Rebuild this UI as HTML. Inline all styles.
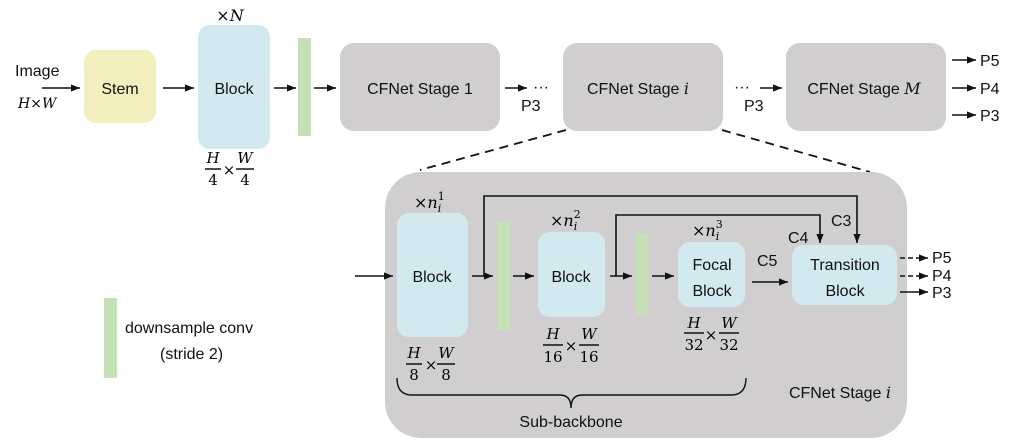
<!DOCTYPE html>
<html><head><meta charset="utf-8"><style>
html,body{margin:0;padding:0;background:#fff;}
svg{display:block;font-family:"Liberation Sans",sans-serif;}
.t{font-size:16px;fill:#111;}
.m{font-family:"DejaVu Serif","Liberation Serif",serif;font-style:italic;}
.s{font-family:"DejaVu Serif","Liberation Serif",serif;}
</style></head><body>
<svg width="1013" height="444" viewBox="0 0 1013 444" xmlns="http://www.w3.org/2000/svg">
<defs>
<marker id="a" viewBox="0 0 10 10" refX="10" refY="5" markerWidth="9" markerHeight="9" markerUnits="userSpaceOnUse" orient="auto"><path d="M0,1 L10,5 L0,9 z" fill="#111"/></marker>
</defs>
<g stroke="#111" stroke-width="1.6" fill="none">
<line x1="42" y1="88" x2="80" y2="88" marker-end="url(#a)"/>
<line x1="163" y1="88" x2="194" y2="88" marker-end="url(#a)"/>
<line x1="274" y1="88" x2="296" y2="88" marker-end="url(#a)"/>
<line x1="314" y1="88" x2="336" y2="88" marker-end="url(#a)"/>
<line x1="505" y1="88" x2="527" y2="88" marker-end="url(#a)"/>
<line x1="760" y1="88" x2="782" y2="88" marker-end="url(#a)"/>
<line x1="952" y1="60" x2="976" y2="60" marker-end="url(#a)"/>
<line x1="952" y1="88" x2="976" y2="88" marker-end="url(#a)"/>
<line x1="952" y1="115" x2="976" y2="115" marker-end="url(#a)"/>
</g>
<rect x="84" y="50" width="72" height="73" rx="12" fill="#f0efbd"/>
<rect x="198" y="25" width="72" height="124" rx="12" fill="#d2e9f0"/>
<rect x="298" y="38" width="13" height="98" fill="#c5e0b4"/>
<rect x="340" y="43" width="160" height="88" rx="14" fill="#d0cece"/>
<rect x="563" y="43" width="160" height="88" rx="14" fill="#d0cece"/>
<rect x="786" y="43" width="160" height="88" rx="14" fill="#d0cece"/>
<text class="t" x="15" y="76">Image</text>
<text class="m" x="18" y="108" font-size="14">H×W</text>
<text class="t" x="120" y="94" text-anchor="middle">Stem</text>
<text class="t" x="234" y="94" text-anchor="middle">Block</text>
<text class="m" x="230" y="21" font-size="16" text-anchor="middle"><tspan font-style="normal">×</tspan>N</text>
<g font-size="15">
<text class="m" x="213" y="163" text-anchor="middle">H</text>
<line x1="205" y1="169" x2="221" y2="169" stroke="#111" stroke-width="1.5"/>
<text class="s" x="213" y="185" text-anchor="middle">4</text>
<text class="s" x="229" y="175" text-anchor="middle">×</text>
<text class="m" x="245" y="163" text-anchor="middle">W</text>
<line x1="236" y1="169" x2="254" y2="169" stroke="#111" stroke-width="1.5"/>
<text class="s" x="245" y="185" text-anchor="middle">4</text>
</g>
<text class="t" x="420" y="94" text-anchor="middle">CFNet Stage 1</text>
<text class="t" x="638" y="94" text-anchor="middle">CFNet Stage <tspan class="m">i</tspan></text>
<text class="t" x="864" y="94" text-anchor="middle">CFNet Stage <tspan class="m">M</tspan></text>
<text class="t" x="533" y="92">···</text>
<text class="t" x="521" y="111">P3</text>
<text class="t" x="734" y="92">···</text>
<text class="t" x="744" y="111">P3</text>
<text class="t" x="980" y="66">P5</text>
<text class="t" x="980" y="94">P4</text>
<text class="t" x="980" y="121">P3</text>
<line x1="566" y1="130" x2="420" y2="170" stroke="#111" stroke-width="1.8" stroke-dasharray="9,6"/>
<line x1="722" y1="130" x2="870" y2="172" stroke="#111" stroke-width="1.8" stroke-dasharray="9,6"/>
<rect x="385" y="172" width="522" height="266" rx="36" fill="#d0cece"/>
<rect x="397" y="213" width="71" height="124" rx="12" fill="#d2e9f0"/>
<rect x="497" y="222" width="13" height="108" fill="#c5e0b4"/>
<rect x="538" y="232" width="67" height="85" rx="12" fill="#d2e9f0"/>
<rect x="636" y="234" width="12" height="81" fill="#c5e0b4"/>
<rect x="678" y="242" width="67" height="65" rx="12" fill="#d2e9f0"/>
<rect x="792" y="245" width="105" height="60" rx="12" fill="#d2e9f0"/>
<g stroke="#111" stroke-width="1.6" fill="none">
<line x1="355" y1="276" x2="393" y2="276" marker-end="url(#a)"/>
<line x1="472" y1="276" x2="493" y2="276" marker-end="url(#a)"/>
<line x1="513" y1="276" x2="534" y2="276" marker-end="url(#a)"/>
<line x1="610" y1="276" x2="632" y2="276" marker-end="url(#a)"/>
<line x1="652" y1="276" x2="674" y2="276" marker-end="url(#a)"/>
<line x1="752" y1="282" x2="788" y2="282" marker-end="url(#a)"/>
<polyline points="484,276 484,196 857,196 857,243" marker-end="url(#a)"/>
<polyline points="616,276 616,215 820,215 820,243" marker-end="url(#a)"/>
<line x1="900" y1="258" x2="928" y2="258" stroke-dasharray="5,3" marker-end="url(#a)"/>
<line x1="900" y1="276" x2="928" y2="276" stroke-dasharray="5,3" marker-end="url(#a)"/>
<line x1="900" y1="292" x2="928" y2="292" marker-end="url(#a)"/>
<path d="M397,378 Q397,395 412,395 L560,395 Q571,395 571,408 Q571,395 582,395 L731,395 Q746,395 746,378" stroke-width="1.4"/>
</g>
<text class="t" x="432" y="282" text-anchor="middle">Block</text>
<text class="t" x="571" y="282" text-anchor="middle">Block</text>
<text class="t" x="712" y="270" text-anchor="middle">Focal</text>
<text class="t" x="712" y="296" text-anchor="middle">Block</text>
<text class="t" x="845" y="270" text-anchor="middle">Transition</text>
<text class="t" x="845" y="296" text-anchor="middle">Block</text>
<text class="t" x="757" y="266">C5</text>
<text class="t" x="788" y="243">C4</text>
<text class="t" x="831" y="226">C3</text>
<text class="t" x="932" y="263" font-size="14">P5</text>
<text class="t" x="932" y="281" font-size="14">P4</text>
<text class="t" x="932" y="298" font-size="14">P3</text>
<g font-size="16">
<text class="m" x="414" y="208"><tspan font-style="normal">×</tspan>n<tspan font-size="11" dy="-8" font-style="normal">1</tspan><tspan font-size="11" dx="-7" dy="12">i</tspan></text>
<text class="m" x="550" y="226"><tspan font-style="normal">×</tspan>n<tspan font-size="11" dy="-8" font-style="normal">2</tspan><tspan font-size="11" dx="-7" dy="12">i</tspan></text>
<text class="m" x="692" y="236"><tspan font-style="normal">×</tspan>n<tspan font-size="11" dy="-8" font-style="normal">3</tspan><tspan font-size="11" dx="-7" dy="12">i</tspan></text>
</g>
<g font-size="15">
<text class="m" x="414" y="358" text-anchor="middle">H</text>
<line x1="406" y1="364" x2="422" y2="364" stroke="#111" stroke-width="1.5"/>
<text class="s" x="414" y="380" text-anchor="middle">8</text>
<text class="s" x="431" y="370" text-anchor="middle">×</text>
<text class="m" x="446" y="358" text-anchor="middle">W</text>
<line x1="437" y1="364" x2="455" y2="364" stroke="#111" stroke-width="1.5"/>
<text class="s" x="446" y="380" text-anchor="middle">8</text>

<text class="m" x="553" y="339" text-anchor="middle">H</text>
<line x1="543" y1="345" x2="563" y2="345" stroke="#111" stroke-width="1.5"/>
<text class="s" x="553" y="362" text-anchor="middle">16</text>
<text class="s" x="571" y="351" text-anchor="middle">×</text>
<text class="m" x="589" y="339" text-anchor="middle">W</text>
<line x1="579" y1="345" x2="599" y2="345" stroke="#111" stroke-width="1.5"/>
<text class="s" x="589" y="362" text-anchor="middle">16</text>

<text class="m" x="694" y="328" text-anchor="middle">H</text>
<line x1="684" y1="333" x2="704" y2="333" stroke="#111" stroke-width="1.5"/>
<text class="s" x="694" y="350" text-anchor="middle">32</text>
<text class="s" x="711" y="340" text-anchor="middle">×</text>
<text class="m" x="729" y="328" text-anchor="middle">W</text>
<line x1="719" y1="333" x2="739" y2="333" stroke="#111" stroke-width="1.5"/>
<text class="s" x="729" y="350" text-anchor="middle">32</text>
</g>
<text class="t" x="571" y="427" text-anchor="middle" font-size="15">Sub-backbone</text>
<text class="t" x="840" y="398" text-anchor="middle" font-size="15">CFNet Stage <tspan class="m">i</tspan></text>
<rect x="104" y="298" width="13" height="80" fill="#c5e0b4"/>
<text class="t" x="125" y="333" font-size="15">downsample conv</text>
<text class="t" x="160" y="359" font-size="15">(stride 2)</text>
</svg>
</body></html>
